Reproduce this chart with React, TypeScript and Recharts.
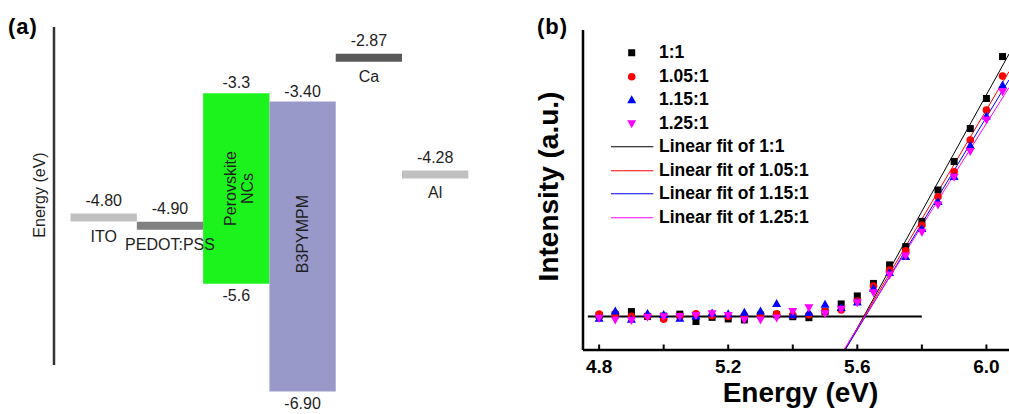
import React from 'react'
import {
  ComposedChart,
  Scatter,
  Line,
  XAxis,
  YAxis,
  ReferenceLine,
  ReferenceArea,
  Legend,
} from 'recharts'

const FONT = "'Liberation Sans', Arial, Helvetica, sans-serif"
const INK = '#1e1e1e'

// (a) energy levels, eV
const layerNames = ['ITO', 'PEDOT:PSS', 'Perovskite NCs', 'B3PYMPM', 'Ca', 'Al']
const upperLevel = [-4.8, -4.9, -3.3, -3.4, -2.87, -4.28]
const lowerLevel: Array<number | null> = [null, null, -5.6, -6.9, null, null]
const upperText = ['-4.80', '-4.90', '-3.3', '-3.40', '-2.87', '-4.28']
const lowerText = ['', '', '-5.6', '-6.90', '', '']
const layerColors = ['#c0c0c0', '#808080', '#1cf31c', '#9999c9', '#595959', '#c0c0c0']

// (b) secondary electron cut-off
const energy = [
  4.8, 4.85, 4.9, 4.95, 5.0, 5.05, 5.1, 5.15, 5.2, 5.25, 5.3, 5.35, 5.4,
  5.45, 5.5, 5.55, 5.6, 5.65, 5.7, 5.75, 5.8, 5.85, 5.9, 5.95, 6.0, 6.05,
]
const ratio1 = [
  10.8, 11.0, 12.0, 10.5, 10.6, 11.2, 8.9, 10.2, 9.7, 9.4, 10.9, 11.0, 10.4,
  10.1, 12.0, 14.4, 16.9, 20.8, 26.6, 32.3, 40.2, 50.0, 58.9, 69.2, 78.6, 91.7,
]
const ratio105 = [
  11.2, 11.4, 10.5, 10.6, 9.6, 10.5, 11.3, 10.7, 10.5, 10.8, 10.8, 11.3, 10.9,
  11.0, 12.0, 12.5, 15.3, 20.0, 25.0, 31.0, 39.0, 47.9, 55.7, 65.6, 75.0, 85.6,
]
const ratio115 = [
  9.9, 12.2, 9.6, 11.4, 11.1, 9.9, 10.6, 11.6, 11.3, 11.8, 12.2, 14.5, 11.0,
  11.7, 14.3, 13.3, 15.0, 19.3, 24.2, 29.2, 38.0, 46.4, 54.2, 64.0, 73.1, 82.8,
]
const ratio125 = [
  9.9, 9.4, 9.2, 10.2, 10.4, 10.5, 10.8, 11.3, 10.8, 9.4, 9.4, 10.0, 12.0,
  13.2, 11.3, 12.7, 14.8, 17.9, 23.4, 29.4, 36.8, 45.3, 54.0, 62.0, 71.9, 80.7,
]
const seriesNames = ['1:1', '1.05:1', '1.15:1', '1.25:1']
const seriesValues = [ratio1, ratio105, ratio115, ratio125]
const seriesColors = ['#000000', '#ff0000', '#0000ff', '#ff00ff']

// linear fits: where each crosses zero, and its value at the right edge
const fitZeroEnergy = [5.562, 5.56, 5.562, 5.558]
const fitEdgeEnergy = 6.07
const fitEdgeValue = [92.5, 87, 84.4, 82]
const baselineEnergy = [4.765, 5.8]
const baselineValue = 10.5

const xTicks = [4.8, 5.0, 5.2, 5.4, 5.6, 5.8, 6.0]
const xTickLabels = ['4.8', '', '5.2', '', '5.6', '', '6.0']

function Marker({ kind, cx, cy, color }: { kind: number; cx: number; cy: number; color: string }) {
  if (kind === 0) return <rect x={cx - 3.5} y={cy - 3.5} width={7} height={7} fill={color} />
  if (kind === 1) return <circle cx={cx} cy={cy} r={3.8} fill={color} />
  if (kind === 2)
    return <polygon points={`${cx},${cy - 4.5} ${cx + 4.5},${cy + 3.5} ${cx - 4.5},${cy + 3.5}`} fill={color} />
  return <polygon points={`${cx},${cy + 4.5} ${cx + 4.5},${cy - 3.5} ${cx - 4.5},${cy - 3.5}`} fill={color} />
}

const levelLabel = (value: string, name: string) => (props: any) => {
  const vb = props.viewBox ?? { x: 0, y: 0, width: 0, height: 0 }
  const cx = vb.x + vb.width / 2
  return (
    <g fontFamily={FONT} fontSize={16} fill={INK} textAnchor="middle">
      <text x={cx} y={vb.y - 11.5}>{value}</text>
      <text x={cx} y={vb.y + 24}>{name}</text>
    </g>
  )
}

const boxLabel = (top: string, bottom: string, name: string) => (props: any) => {
  const vb = props.viewBox ?? { x: 0, y: 0, width: 0, height: 0 }
  const cx = vb.x + vb.width / 2
  const lines = name.split(' ')
  const cy = lines.length > 1 ? vb.y + vb.height / 2 : vb.y + vb.height * 0.457
  const shift = lines.length > 1 ? 0 : 5.3
  return (
    <g fontFamily={FONT} fontSize={16} fill={INK} textAnchor="middle">
      <text x={cx} y={vb.y - 5}>{top}</text>
      <text x={cx} y={vb.y + vb.height + 17.5}>{bottom}</text>
      <text transform={`rotate(-90 ${cx} ${cy})`} x={cx} y={cy + shift}>
        {lines.map((l, i) => (
          <tspan key={l} x={cx} dy={i === 0 ? 0 : 17}>
            {l}
          </tspan>
        ))}
      </text>
    </g>
  )
}

// layer centres, used so the chart has data to build its scales from
const layerPoints = layerNames.map((name, i) => ({ pos: i + 0.5, e: upperLevel[i], name }))

function EnergyLevels() {
  return (
    <ComposedChart
      width={500}
      height={414}
      data={layerPoints}
      margin={{ top: 27, right: 31.7, bottom: 49, left: 24 }}
    >
      <XAxis type="number" dataKey="pos" domain={[-0.25, 6]} allowDataOverflow hide />
      <YAxis
        type="number"
        dataKey="e"
        domain={[-6.58, -2.5]}
        allowDataOverflow
        width={30}
        tick={false}
        tickLine={false}
        axisLine={{ stroke: '#333', strokeWidth: 2.5 }}
        label={(props: any) => {
          const vb = props.viewBox ?? { x: 24, y: 27, width: 30, height: 338 }
          const x = vb.x + vb.width - 9
          const y = vb.y + vb.height / 2 - 1
          return (
            <text
              x={x}
              y={y}
              transform={`rotate(-90 ${x} ${y})`}
              textAnchor="middle"
              fontFamily={FONT}
              fontSize={16}
              fill={INK}
            >
              Energy (eV)
            </text>
          )
        }}
      />
      {layerNames.map((name, i) => {
        const lo = lowerLevel[i]
        if (lo === null) {
          return (
            <ReferenceLine
              key={name}
              segment={[
                { x: i, y: upperLevel[i] },
                { x: i + 1, y: upperLevel[i] },
              ]}
              stroke={layerColors[i]}
              strokeWidth={8}
              label={levelLabel(upperText[i], name)}
            />
          )
        }
        return (
          <ReferenceArea
            key={name}
            x1={i}
            x2={i + 1}
            y1={lo}
            y2={upperLevel[i]}
            fill={layerColors[i]}
            fillOpacity={1}
            stroke="none"
            ifOverflow="visible"
            label={boxLabel(upperText[i], lowerText[i], name)}
          />
        )
      })}
      <Scatter dataKey="e" isAnimationActive={false} shape={() => <g />} />
    </ComposedChart>
  )
}

const renderXTick = (p: any) => {
  const label = xTickLabels[xTicks.indexOf(p.payload.value)]
  return (
    <g>
      <line x1={p.x} x2={p.x} y1={p.y} y2={p.y - 5.5} stroke="#000" strokeWidth={2} />
      {label && (
        <text x={p.x} y={p.y + 23.3} textAnchor="middle" fontFamily={FONT} fontSize={19} fontWeight="bold" fill="#000">
          {label}
        </text>
      )}
    </g>
  )
}

const renderLegend = () => (
  <div style={{ fontFamily: FONT, fontWeight: 'bold', fontSize: 17.5, color: '#000', lineHeight: 'normal' }}>
    {seriesNames.map((n, i) => (
      <div key={n} style={{ display: 'flex', alignItems: 'center', height: 23.5 }}>
        <svg width={48} height={23.5} style={{ display: 'block' }}>
          <Marker kind={i} cx={20.7} cy={11.75} color={seriesColors[i]} />
        </svg>
        <span>{n}</span>
      </div>
    ))}
    {seriesNames.map((n, i) => (
      <div key={'fit' + n} style={{ display: 'flex', alignItems: 'center', height: 23.5 }}>
        <svg width={48} height={23.5} style={{ display: 'block' }}>
          <line x1={0} x2={42.3} y1={11.75} y2={11.75} stroke={seriesColors[i]} strokeWidth={1} />
        </svg>
        <span>Linear fit of {n}</span>
      </div>
    ))}
  </div>
)

function Cutoff() {
  const axis = { stroke: '#000', strokeWidth: 2.5 }
  return (
    <ComposedChart width={509} height={414} margin={{ top: 30, right: 0, bottom: 0, left: 0 }}>
      <XAxis
        type="number"
        dataKey="x"
        domain={[4.75, 6.07]}
        allowDataOverflow
        ticks={xTicks}
        interval={0}
        tickSize={0}
        tickMargin={0}
        tickLine={false}
        height={64}
        axisLine={axis}
        tick={renderXTick}
        label={(props: any) => {
          const vb = props.viewBox ?? { x: 83, y: 320, width: 426, height: 64 }
          return (
            <text
              x={vb.x + vb.width / 2 + 4.5}
              y={vb.y + 51.7}
              textAnchor="middle"
              fontFamily={FONT}
              fontSize={28}
              fontWeight="bold"
              fill="#000"
            >
              Energy (eV)
            </text>
          )
        }}
      />
      <XAxis
        xAxisId="top"
        orientation="top"
        type="number"
        domain={[4.75, 6.07]}
        allowDataOverflow
        height={0}
        tick={false}
        tickLine={false}
        axisLine={axis}
      />
      <YAxis
        type="number"
        dataKey="y"
        domain={[0, 100]}
        allowDataOverflow
        width={83}
        tick={false}
        tickLine={false}
        axisLine={axis}
        label={(props: any) => {
          const vb = props.viewBox ?? { x: 0, y: 30, width: 83, height: 320 }
          const x = vb.x + vb.width - 24.7
          const y = vb.y + vb.height / 2 - 3.5
          return (
            <text
              x={x}
              y={y}
              transform={`rotate(-90 ${x} ${y})`}
              textAnchor="middle"
              fontFamily={FONT}
              fontSize={28}
              fontWeight="bold"
              fill="#000"
            >
              Intensity (a.u.)
            </text>
          )
        }}
      />
      <Line
        data={baselineEnergy.map((x) => ({ x, y: baselineValue }))}
        dataKey="y"
        stroke="#000"
        strokeWidth={2}
        dot={false}
        activeDot={false}
        isAnimationActive={false}
      />
      {seriesNames.map((n, i) => (
        <Scatter
          key={n}
          name={n}
          data={energy.map((x, j) => ({ x, y: seriesValues[i][j] }))}
          fill={seriesColors[i]}
          isAnimationActive={false}
          shape={(p: any) => <Marker kind={i} cx={p.cx} cy={p.cy} color={seriesColors[i]} />}
        />
      ))}
      {seriesNames.map((n, i) => (
        <Line
          key={'fit' + n}
          name={'Linear fit of ' + n}
          data={[
            { x: fitZeroEnergy[i], y: 0 },
            { x: fitEdgeEnergy, y: fitEdgeValue[i] },
          ]}
          dataKey="y"
          stroke={seriesColors[i]}
          strokeWidth={1}
          dot={false}
          activeDot={false}
          isAnimationActive={false}
        />
      ))}
      <Legend
        layout="horizontal"
        verticalAlign="middle"
        content={renderLegend}
        wrapperStyle={{ left: 111, top: 41, width: 240, height: 188 }}
      />
    </ComposedChart>
  )
}

export default function App() {
  return (
    <div style={{ position: 'absolute', left: 0, top: 0, width: 1009, height: 414, overflow: 'hidden', background: '#fff' }}>
      <div style={{ position: 'absolute', left: 0, top: 0 }}>
        <EnergyLevels />
      </div>
      <div style={{ position: 'absolute', left: 500, top: 0 }}>
        <Cutoff />
      </div>
      <svg width={1009} height={414} style={{ position: 'absolute', left: 0, top: 0, pointerEvents: 'none' }}>
        <g fontFamily={FONT} fontSize={22} fontWeight="bold" fill="#000" letterSpacing={1}>
          <text x={8} y={34}>(a)</text>
          <text x={537} y={34}>(b)</text>
        </g>
      </svg>
    </div>
  )
}
